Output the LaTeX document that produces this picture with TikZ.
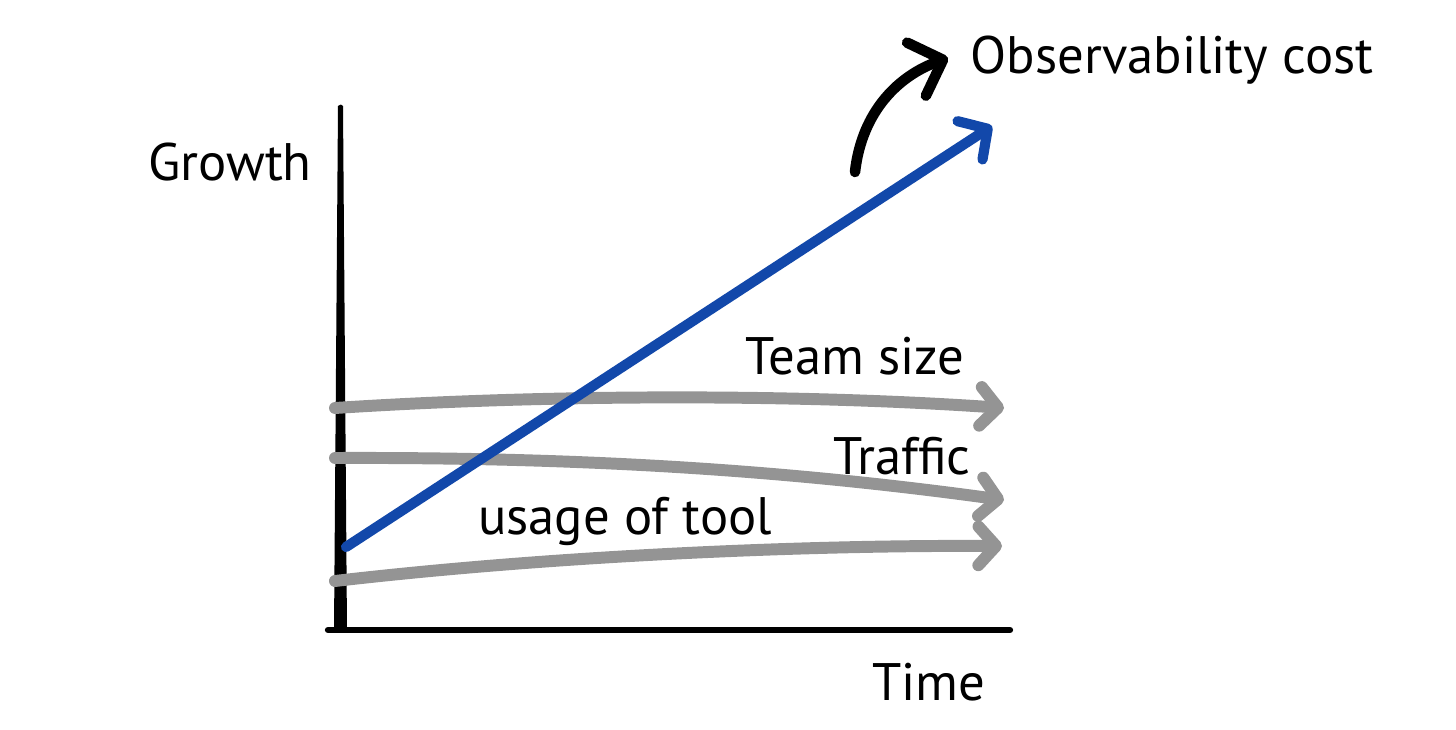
\documentclass[tikz,border=0pt]{standalone}
\usepackage{fontspec}
\setmainfont{PT Sans}
\usepackage{tikz}
\usetikzlibrary{arrows.meta,positioning}

\definecolor{trendgray}{RGB}{148,148,148}
\definecolor{costblue}{RGB}{18,72,170}

\begin{document}
\begin{tikzpicture}[
            x=0.01cm,y=-0.01cm,
            every node/.style={inner sep=0pt},
            txt/.style={font=\fontsize{15}{17}\selectfont},
            trend/.style={draw=trendgray,line width=3.4pt,line cap=round,
                -{Straight Barb[length=5pt,width=11pt,round]}},
            costline/.style={draw=costblue,line width=2.9pt,line cap=round,
                -{Straight Barb[length=6pt,width=13pt,round]}},
            >=latex
        ]
        \useasboundingbox (0,0) rectangle (1456,730);

        % Draw axes %
        \fill (338,106) .. controls (340,104) and (342,104) .. (343,106)
            -- (347,631) -- (334,631) -- cycle;
        \draw[line width=1.8pt,line cap=round] (328,630) -- (1010,630);
        \node[txt] (growth) at (230,162) {Growth};
        \node[txt] (time) at (929,682) {Time};

        % Draw trend points %
        \coordinate (team0) at (335,408);
        \coordinate (team1) at (1004,408);
        \coordinate (traf0) at (335,458);
        \coordinate (traf1) at (1004,500);
        \coordinate (use0) at (335,581);
        \coordinate (use1) at (1002,546);
        \coordinate (cost0) at (346,547);
        \coordinate (cost1) at (992,126);
        \coordinate (bend0) at (855,172);
        \coordinate (bend1) at (948,58);

        % Draw gray trends %
        \draw[trend] (team0) .. controls (550,394) and (800,394) .. (team1);
        \draw[trend] (traf0) .. controls (600,457) and (800,472) .. (traf1);
        \draw[trend] (use0) .. controls (550,556) and (800,545) .. (use1);

        % Draw cost line %
        \draw[costline] (cost0) -- (cost1);
        \draw[line width=3pt,line cap=round,
            -{Straight Barb[length=8pt,width=16pt,round]}]
            (bend0) .. controls (862,110) and (900,75) .. (bend1);

        % Label %
        \node[txt] (team) at (855,356) {Team size};
        \node[txt] (traffic) at (902,456) {Traffic};
        \node[txt] (usage) at (625,521) {usage of tool};
        \node[txt,anchor=west] (cost) at (970,60) {Observability cost};
\end{tikzpicture}
\end{document}
